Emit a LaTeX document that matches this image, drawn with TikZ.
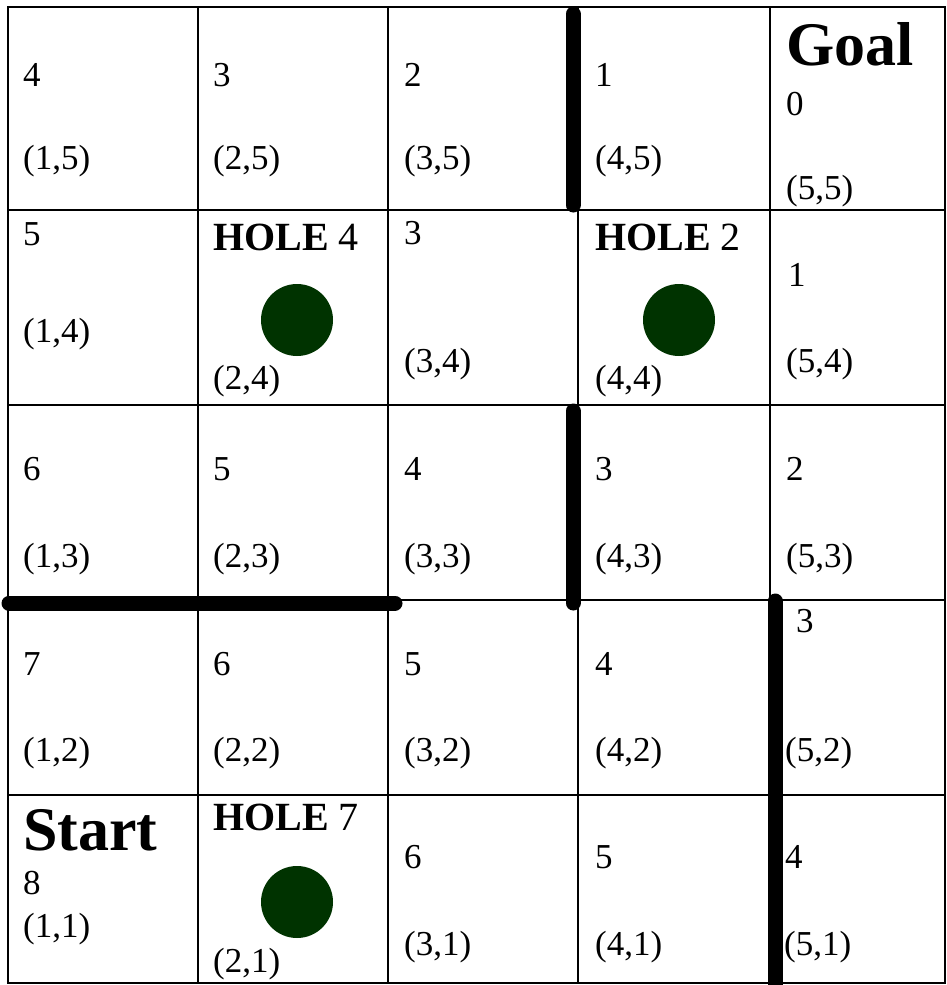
\documentclass[tikz,border=0pt]{standalone}
\usepackage{fontspec}
\setmainfont{Liberation Serif}
\definecolor{holegreen}{RGB}{0,51,0}
\begin{document}
\begin{tikzpicture}[x=1pt,y=-1pt,
  gridline/.style={line width=2.5pt},
  wall/.style={line width=15pt, line cap=round},
  txt/.style={anchor=base west, inner sep=0pt, font=\fontsize{35}{40}\selectfont},
  bigtxt/.style={anchor=base west, inner sep=0pt, font=\bfseries\fontsize{62}{70}\selectfont},
  holetxt/.style={anchor=base west, inner sep=0pt, font=\fontsize{40}{46}\selectfont},
  hole/.style={circle, fill=holegreen, minimum size=72pt, inner sep=0pt}]
\useasboundingbox (0,0) rectangle (947,985);
\fill[white] (0,0) rectangle (947,985);
% grid
\draw[gridline] (8,7) rectangle (945,983);
\foreach \x in {198,388,578,770} \draw[gridline] (\x,7) -- (\x,983);
\foreach \y in {210,405,600,795} \draw[gridline] (8,\y) -- (945,\y);
% holes
\node[hole] (h24) at (297,320) {};
\node[hole] (h44) at (679,320) {};
\node[hole] (h21) at (297,902) {};
% row 5 (top)
\node[txt] (n15) at (23,86) {4};   \node[txt] (c15) at (23,169) {(1,5)};
\node[txt] (n25) at (213,86) {3};  \node[txt] (c25) at (213,169) {(2,5)};
\node[txt] (n35) at (404,86) {2};  \node[txt] (c35) at (404,169) {(3,5)};
\node[txt] (n45) at (595,86) {1};  \node[txt] (c45) at (595,169) {(4,5)};
\node[bigtxt] (goal) at (786,65) {Goal};
\node[txt] (n55) at (786,115) {0}; \node[txt] (c55) at (786,199) {(5,5)};
% row 4
\node[txt] (n14) at (23,245) {5};  \node[txt] (c14) at (23,342) {(1,4)};
\node[holetxt] (n24) at (213,250) {\textbf{HOLE} 4}; \node[txt] (c24) at (213,389) {(2,4)};
\node[txt] (n34) at (404,244) {3}; \node[txt] (c34) at (404,372) {(3,4)};
\node[holetxt] (n44) at (595,250) {\textbf{HOLE} 2}; \node[txt] (c44) at (595,389) {(4,4)};
\node[txt] (n54) at (788,286) {1}; \node[txt] (c54) at (786,372) {(5,4)};
% row 3
\node[txt] (n13) at (23,480) {6};  \node[txt] (c13) at (23,567) {(1,3)};
\node[txt] (n23) at (213,480) {5}; \node[txt] (c23) at (213,567) {(2,3)};
\node[txt] (n33) at (404,480) {4}; \node[txt] (c33) at (404,567) {(3,3)};
\node[txt] (n43) at (595,480) {3}; \node[txt] (c43) at (595,567) {(4,3)};
\node[txt] (n53) at (786,480) {2}; \node[txt] (c53) at (786,567) {(5,3)};
% row 2
\node[txt] (n12) at (23,675) {7};  \node[txt] (c12) at (23,761) {(1,2)};
\node[txt] (n22) at (213,675) {6}; \node[txt] (c22) at (213,761) {(2,2)};
\node[txt] (n32) at (404,675) {5}; \node[txt] (c32) at (404,761) {(3,2)};
\node[txt] (n42) at (595,675) {4}; \node[txt] (c42) at (595,761) {(4,2)};
\node[txt] (n52) at (796,632) {3}; \node[txt] (c52) at (785,761) {(5,2)};
% row 1
\node[bigtxt] (start) at (23,850) {Start};
\node[txt] (n11) at (23,894) {8};  \node[txt] (c11) at (23,937) {(1,1)};
\node[holetxt] (n21) at (213,830) {\textbf{HOLE} 7}; \node[txt] (c21) at (213,972) {(2,1)};
\node[txt] (n31) at (404,868) {6}; \node[txt] (c31) at (404,955) {(3,1)};
\node[txt] (n41) at (595,868) {5}; \node[txt] (c41) at (595,955) {(4,1)};
\node[txt] (n51) at (785,868) {4}; \node[txt] (c51) at (784,955) {(5,1)};
% walls
\coordinate (w1a) at (573,14);  \coordinate (w1b) at (573,205);
\coordinate (w2a) at (573,411); \coordinate (w2b) at (573,603);
\coordinate (w3a) at (9,603);   \coordinate (w3b) at (395,603);
\coordinate (w4a) at (775,601); \coordinate (w4b) at (775,992);
\draw[wall] (w1a) -- (w1b);
\draw[wall] (w2a) -- (w2b);
\draw[wall] (w3a) -- (w3b);
\draw[wall] (w4a) -- (w4b);
\end{tikzpicture}
\end{document}
